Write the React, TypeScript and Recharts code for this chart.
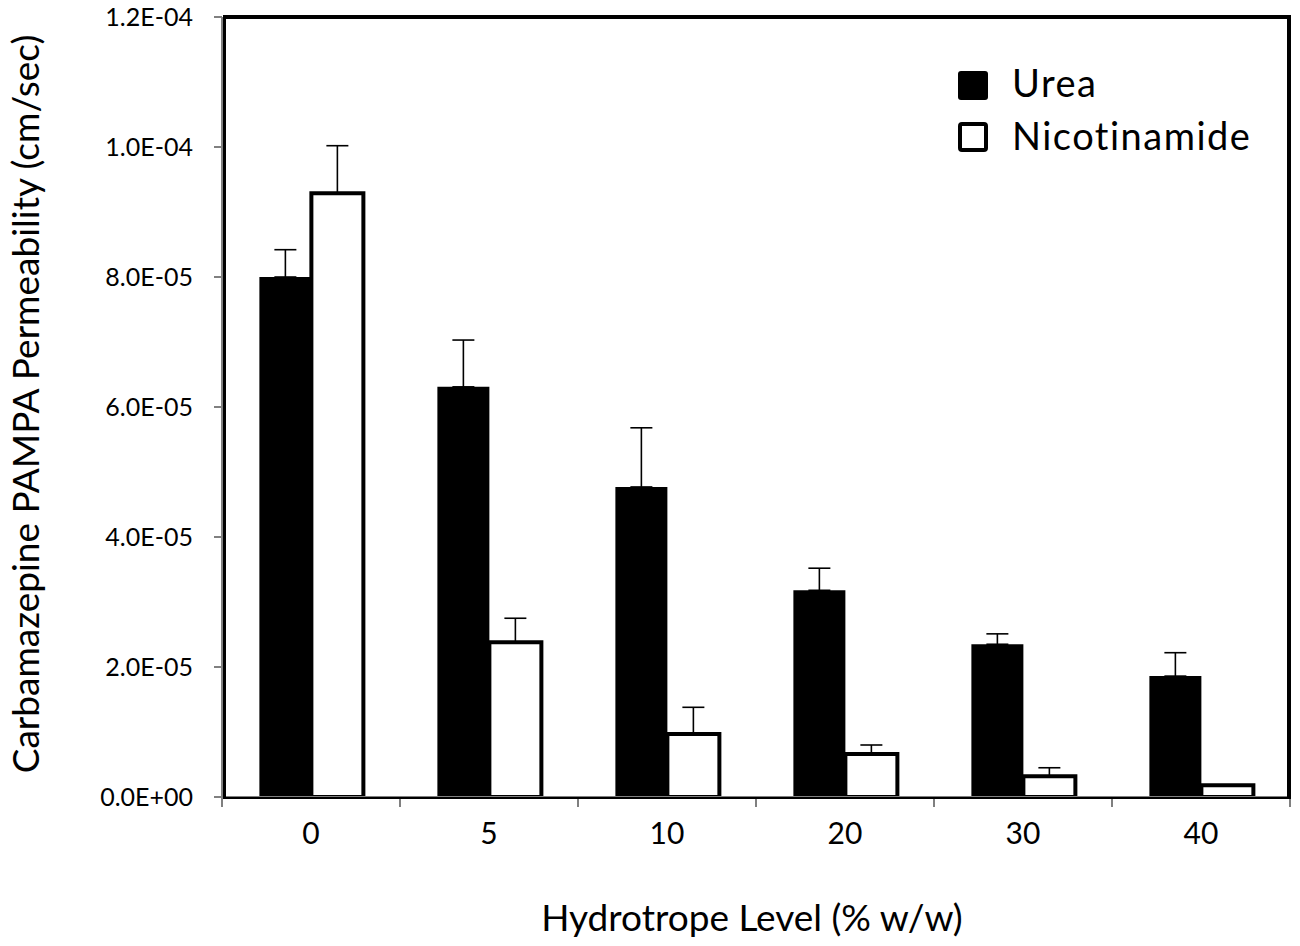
import React from 'react';
import { BarChart, Bar, XAxis, YAxis, ErrorBar, Legend, Label } from 'recharts';

const levels = ['0', '5', '10', '20', '30', '40'];
const ureaValues = [8.0e-5, 6.31e-5, 4.77e-5, 3.18e-5, 2.35e-5, 1.86e-5];
const ureaErrors = [0.42e-5, 0.72e-5, 0.91e-5, 0.34e-5, 0.16e-5, 0.36e-5];
const nicotinamideValues = [9.29e-5, 2.38e-5, 0.97e-5, 0.66e-5, 0.32e-5, 0.18e-5];
const nicotinamideErrors = [0.73e-5, 0.37e-5, 0.41e-5, 0.14e-5, 0.13e-5, 0];
const yTicks = [0, 2e-5, 4e-5, 6e-5, 8e-5, 1.0e-4, 1.2e-4];
const yTickLabels = ['0.0E+00', '2.0E-05', '4.0E-05', '6.0E-05', '8.0E-05', '1.0E-04', '1.2E-04'];

const data = levels.map((level, i) => ({
  level,
  urea: ureaValues[i],
  ureaErr: [0, ureaErrors[i]],
  nicotinamide: nicotinamideValues[i],
  nicotinamideErr: [0, nicotinamideErrors[i]],
}));

const FONT = 'Lato, "Open Sans", sans-serif';

const LegendContent = () => (
  <svg width={340} height={110} style={{ display: 'block' }}>
    <rect x={8} y={11} width={30} height={29} rx={3} fill="#000" />
    <text x={62} y={37} fontSize={38} letterSpacing={1.5} fill="#000" fontFamily={FONT}>Urea</text>
    <rect x={10} y={64} width={26} height={26} rx={2} fill="#fff" stroke="#000" strokeWidth={4} />
    <text x={62} y={90} fontSize={38} letterSpacing={1.5} fill="#000" fontFamily={FONT}>Nicotinamide</text>
  </svg>
);

const CategoryTick = (props: any) => {
  const { x, y, payload, index, visibleTicksCount } = props;
  const half = payload?.offset ?? 0;
  const isLast = index === (visibleTicksCount ?? levels.length) - 1;
  return (
    <g>
      <line x1={x - half} y1={y} x2={x - half} y2={y + 10} stroke="#808080" strokeWidth={2} />
      {isLast && <line x1={x + half} y1={y} x2={x + half} y2={y + 10} stroke="#808080" strokeWidth={2} />}
      <text x={x} y={y + 47} textAnchor="middle" fontSize={30} fill="#000" fontFamily={FONT}>
        {payload.value}
      </text>
    </g>
  );
};

export default function App() {
  return (
    <div style={{ position: 'absolute', left: 0, top: 0, width: 1300, height: 946, background: '#fff', fontFamily: FONT }}>
      <BarChart
        width={1300}
        height={946}
        data={data}
        margin={{ top: 17, right: 10, left: 0, bottom: 0 }}
        barCategoryGap="21%"
        barGap={0}
      >
        <XAxis
          dataKey="level"
          height={149}
          interval={0}
          axisLine={{ stroke: '#808080', strokeWidth: 2 }}
          tickLine={false}
          tickSize={0}
          tickMargin={0}
          tick={<CategoryTick />}
        >
          <Label
            content={({ viewBox }: any) => (
              <text
                x={viewBox.x + viewBox.width / 2 - 4}
                y={viewBox.y + 134}
                textAnchor="middle"
                fontSize={37}
                fill="#000"
                fontFamily={FONT}
              >
                Hydrotrope Level (% w/w)
              </text>
            )}
          />
        </XAxis>
        <YAxis
          width={222}
          domain={[0, 1.2e-4]}
          allowDataOverflow
          tickCount={7}
          ticks={yTicks}
          interval={0}
          tickFormatter={(v: number) => yTickLabels[yTicks.findIndex((t) => Math.abs(t - v) < 1e-9)] ?? ''}
          tickSize={8}
          tickMargin={21}
          tick={{ fontSize: 25, fill: '#000', fontFamily: FONT }}
          axisLine={{ stroke: '#808080', strokeWidth: 2 }}
          tickLine={{ stroke: '#808080', strokeWidth: 2 }}
        >
          <Label
            content={() => {
              const cx = 39;
              const cy = 404;
              return (
                <text
                  x={cx}
                  y={cy}
                  transform={`rotate(-90, ${cx}, ${cy})`}
                  textAnchor="middle"
                  fontSize={37}
                  fill="#000"
                  fontFamily={FONT}
                >
                  Carbamazepine PAMPA Permeability (cm/sec)
                </text>
              );
            }}
          />
        </YAxis>
        <Legend
          layout="horizontal"
          verticalAlign="middle"
          align="center"
          content={<LegendContent />}
          wrapperStyle={{ left: 950, top: 60, width: 340 }}
        />
        <Bar dataKey="urea" name="Urea" fill="#000" isAnimationActive={false}>
          <ErrorBar dataKey="ureaErr" direction="y" width={11} stroke="#000" strokeWidth={1.6} />
        </Bar>
        <Bar
          dataKey="nicotinamide"
          name="Nicotinamide"
          fill="#fff"
          stroke="#000"
          strokeWidth={4}
          isAnimationActive={false}
        >
          <ErrorBar dataKey="nicotinamideErr" direction="y" width={11} stroke="#000" strokeWidth={1.6} />
        </Bar>
      </BarChart>
      <div
        style={{
          position: 'absolute',
          left: 223,
          top: 15,
          width: 1291 - 223,
          height: 799 - 15,
          boxSizing: 'border-box',
          borderTop: '4px solid #000',
          borderRight: '4px solid #000',
          borderLeft: '3px solid #000',
          borderBottom: '2px solid #000',
          pointerEvents: 'none',
        }}
      />
    </div>
  );
}
